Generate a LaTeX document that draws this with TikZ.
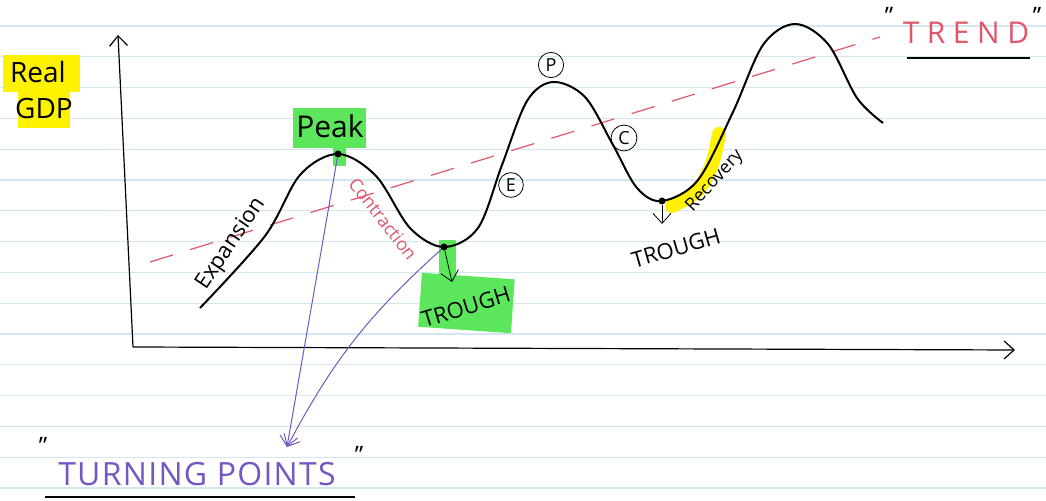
\documentclass[tikz,border=0pt]{standalone}
\usepackage{fontspec}
\setmainfont{Open Sans}
\usetikzlibrary{arrows.meta}
\definecolor{rulecol}{HTML}{D3E7F0}
\definecolor{hlgreen}{HTML}{5CE65C}
\definecolor{hlyellow}{HTML}{FFF200}
\definecolor{trendred}{HTML}{E0566B}
\definecolor{penpurple}{HTML}{7357C2}
\tikzset{>/.tip={Straight Barb[length=5pt,width=9pt]},
  hand/.style={inner sep=1pt},
  pt/.style={circle,fill=black,inner sep=0pt,minimum size=3.5pt},
  ring/.style={circle,draw,thin,inner sep=1.5pt,font=\fontsize{9}{9}\selectfont}}
\newcommand{\tsize}[1]{\fontsize{#1}{#1}\selectfont}

\begin{document}
\begin{tikzpicture}[x=0.5pt,y=-0.5pt]
\useasboundingbox (0,0) rectangle (1046,501);
\fill[white] (0,0) rectangle (1046,501);
\foreach \y in {26,56.8,...,500}
  \draw[rulecol,line width=0.6pt] (0,\y) -- (1046,\y);

\fill[hlyellow] (3,55) rectangle (80,92);
\fill[hlyellow] (18,90) rectangle (70,128);
\fill[hlgreen] (293,108) rectangle (366,148);
\fill[hlgreen] (333,146) rectangle (346,166);
\fill[hlgreen] (439,240) rectangle (456,280);
\fill[hlgreen,rotate around={-4:(466,302)}] (420,276) rectangle (513,330);
\draw[hlyellow,line width=7pt,line cap=round] plot[smooth] coordinates {(672,206) (697,191) (712,164) (719,134)};

\draw[trendred,line width=0.6pt,dash pattern=on 12pt off 9pt] (150,262) -- (880,37);

\coordinate (o) at (133,347);
\coordinate (ytop) at (118,35);
\coordinate (xend) at (1015,350);
\draw[->,line width=0.6pt] (o) -- (ytop);
\draw[->,line width=0.6pt] (o) -- (xend);

\draw[line width=1pt] plot[smooth,tension=0.55] coordinates {(200,308) (265,236) (300,175) (338,154) (376,176) (410,228) (444,247) (478,228) (502,165) (527,101) (553,82) (585,97) (613,145) (637,188) (662,201) (698,180) (733,112) (763,45) (795,24) (828,44) (857,98) (883,123)};

\node[pt] (pk) at (338,154) {};
\node[pt] (tr) at (444,247) {};
\node[pt] (trb) at (662,201) {};

\node[hand] (real) at (38,72) {\tsize{14}Real};
\node[hand] (gdp) at (44,109) {\tsize{14}GDP};
\node[hand] (peak) at (330,126) {\tsize{15}Peak};
\node[hand,rotate=17] (trough) at (466,307) {\tsize{11}TROUGH};
\node[hand,rotate=16] (troughb) at (676,248) {\tsize{11}TROUGH};
\node[hand,rotate=56] (exp) at (231,244) {\tsize{11}Expansion};
\node[hand,rotate=-52,text=trendred] (con) at (383,219) {\tsize{9}Contraction};
\node[hand,rotate=48] (rec) at (715,181) {\tsize{9}Recovery};
\node[ring] (e) at (511,185) {E};
\node[ring] (p) at (551,65) {P};
\node[ring] (c) at (624,138) {C};

\draw[->] (tr) -- (452,282);
\draw[->] (trb) -- (trb |- 0,224);

\node[hand,text=trendred] (trend) at (966,33) {\tsize{15}\addfontfeatures{LetterSpace=25}TREND};
\node[hand] (q1) at (889,16) {\tsize{12}''};
\node[hand] (q2) at (1037,16) {\tsize{12}''};
\draw[line width=0.6pt] (907,58) -- (1030,58);

\coordinate (tp) at (287,447);
\draw[penpurple,->,line width=0.5pt] (pk) -- (tp);
\draw[penpurple,->,line width=0.5pt] (tr) to[bend right=10] (tp);

\node[hand,text=penpurple] (turn) at (197,474) {\tsize{16}\addfontfeatures{LetterSpace=4}TURNING POINTS};
\node[hand] (q3) at (43,446) {\tsize{12}''};
\node[hand] (q4) at (359,455) {\tsize{12}''};
\draw[line width=0.6pt] (45,497) -- (355,497);
\end{tikzpicture}
\end{document}
